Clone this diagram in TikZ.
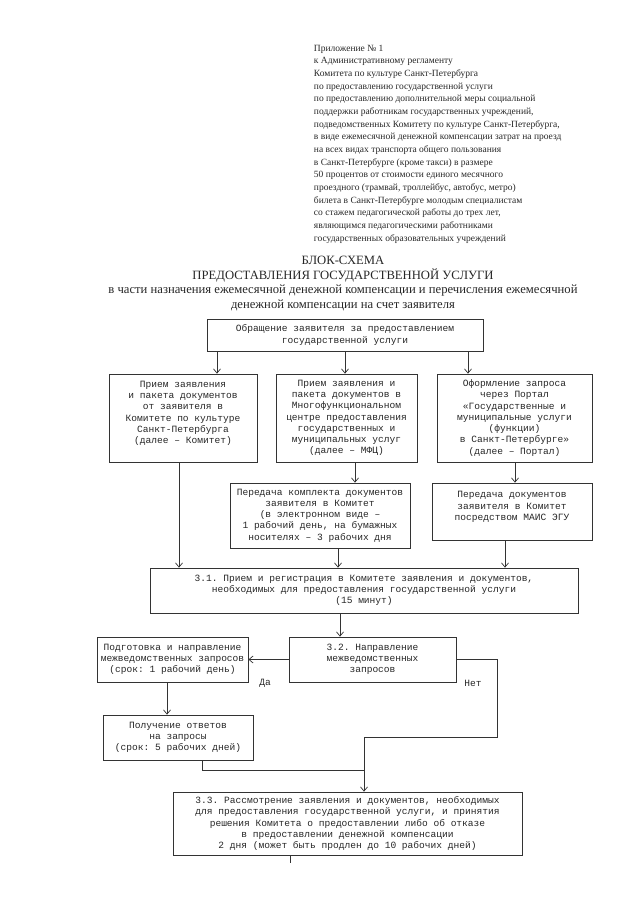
\documentclass[tikz,border=0pt]{standalone}
\usepackage{fontspec}
\setmainfont{Liberation Serif}
\setmonofont{Liberation Mono}
\usetikzlibrary{arrows.meta}

\begin{document}
\begin{tikzpicture}[x=0.025cm, y=-0.025cm, every node/.style={text=black!85},
  box/.style={draw=black!80, line width=0.5pt, inner sep=1pt, align=center, font=\ttfamily\fontsize{6.8}{8}\selectfont},
  arr/.style={draw=black!80, line width=0.5pt, -{Straight Barb[length=3pt,width=5pt]}},
  conn/.style={draw=black!80, line width=0.5pt},
  lbl/.style={font=\ttfamily\fontsize{6.8}{8}\selectfont}]
\useasboundingbox (0,0) rectangle (640,905);
% heading
\node[anchor=north west, align=left, font=\fontsize{6.75}{9}\selectfont] (appx) at (309,40) {Приложение №~1\\
  к Административному регламенту\\
  Комитета по культуре Санкт-Петербурга\\
  по предоставлению государственной услуги\\
  по предоставлению дополнительной меры социальной\\
  поддержки работникам государственных учреждений,\\
  подведомственных Комитету по культуре Санкт-Петербурга,\\
  в виде ежемесячной денежной компенсации затрат на проезд\\
  на всех видах транспорта общего пользования\\
  в Санкт-Петербурге (кроме такси) в размере\\
  50 процентов от стоимости единого месячного\\
  проездного (трамвай, троллейбус, автобус, метро)\\
  билета в Санкт-Петербурге молодым специалистам\\
  со стажем педагогической работы до трех лет,\\
  являющимся педагогическими работниками\\
  государственных образовательных учреждений};
\node[align=center, font=\fontsize{9}{10.4}\selectfont] (title) at (343,283.5) {БЛОК-СХЕМА\\
  ПРЕДОСТАВЛЕНИЯ ГОСУДАРСТВЕННОЙ УСЛУГИ\\
  в части назначения ежемесячной денежной компенсации и перечисления ежемесячной\\
  денежной компенсации на счет заявителя};
% boxes
\node[box, minimum width=6.9cm, minimum height=0.8cm] (req) at (345,335) {Обращение заявителя за предоставлением\\ государственной услуги};
\node[box, minimum width=3.7cm, minimum height=2.2cm] (b1) at (183,418) {Прием заявления\\ и пакета документов\\ от заявителя в\\ Комитете по культуре\\ Санкт-Петербурга\\ (далее – Комитет)\\ ~};
\node[box, minimum width=3.525cm, minimum height=2.2cm] (b2) at (346.5,418) {Прием заявления и\\ пакета документов в\\ Многофункциональном\\ центре предоставления\\ государственных и\\ муниципальных услуг\\ (далее – МФЦ)};
\node[box, minimum width=3.875cm, minimum height=2.2cm] (b3) at (514.5,418) {Оформление запроса\\ через Портал\\ «Государственные и\\ муниципальные услуги\\ (функции)\\ в Санкт-Петербурге»\\ (далее – Портал)};
\node[box, minimum width=4.5cm, minimum height=1.625cm] (t2) at (320,515.5) {Передача комплекта документов\\ заявителя в Комитет\\ (в электронном виде –\\ 1 рабочий день, на бумажных\\ носителях – 3 рабочих дня};
\node[box, minimum width=4cm, minimum height=1.425cm] (t3) at (512,511.5) {Передача документов\\ заявителя в Комитет\\ посредством МАИС ЭГУ\\ ~};
\node[box, minimum width=10.7cm, minimum height=1.125cm] (s31) at (364,590.5) {3.1. Прием и регистрация в Комитете заявления и документов,\\ необходимых для предоставления государственной услуги\\ (15 минут)};
\node[box, minimum width=3.775cm, minimum height=1.125cm] (prep) at (172.5,659.5) {Подготовка и направление\\ межведомственных запросов\\ (срок: 1 рабочий день)};
\node[box, minimum width=4.175cm, minimum height=1.125cm] (s32) at (372.5,659.5) {3.2. Направление\\ межведомственных\\ запросов};
\node[box, minimum width=3.75cm, minimum height=1.125cm] (resp) at (178,737.5) {Получение ответов\\ на запросы\\ (срок: 5 рабочих дней)};
\node[box, minimum width=8.725cm, minimum height=1.575cm] (s33) at (347.5,823.5) {3.3. Рассмотрение заявления и документов, необходимых\\ для предоставления государственной услуги, и принятия\\ решения Комитета о предоставлении либо об отказе\\ в предоставлении денежной компенсации\\ 2 дня (может быть продлен до 10 рабочих дней)};
% columns of the connectors
\coordinate (c1) at (217,0); \coordinate (c2) at (345,0); \coordinate (c3) at (468,0);
\coordinate (d1) at (179,0); \coordinate (d2) at (355,0); \coordinate (d3) at (515,0);
\coordinate (e2) at (338,0); \coordinate (e3) at (505,0); \coordinate (f1) at (340,0);
\coordinate (g1) at (167,0); \coordinate (g2) at (202,0); \coordinate (tk) at (290,0);
\coordinate (no) at (497,737); \coordinate (jn) at (364,770);
% connectors
\draw[arr] (req.south -| c1) -- (b1.north -| c1);
\draw[arr] (req.south -| c2) -- (b2.north -| c2);
\draw[arr] (req.south -| c3) -- (b3.north -| c3);
\draw[arr] (b1.south -| d1) -- (s31.north -| d1);
\draw[arr] (b2.south -| d2) -- (t2.north -| d2);
\draw[arr] (b3.south -| d3) -- (t3.north -| d3);
\draw[arr] (t2.south -| e2) -- (s31.north -| e2);
\draw[arr] (t3.south -| e3) -- (s31.north -| e3);
\draw[arr] (s31.south -| f1) -- (s32.north -| f1);
\draw[arr] (s32.west) -- (prep.east);
\node[lbl] (yes) at (265,683) {Да};
\draw[arr] (prep.south -| g1) -- (resp.north -| g1);
\draw[conn] (s32.east) -| (no) -- (no -| jn);
\node[lbl] (nope) at (473,683) {Нет};
\draw[conn] (resp.south -| g2) |- (jn);
\draw[arr] (no -| jn) -- (s33.north -| jn);
\draw[conn] (s33.south -| tk) -- ++(0,8);
\end{tikzpicture}
\end{document}
